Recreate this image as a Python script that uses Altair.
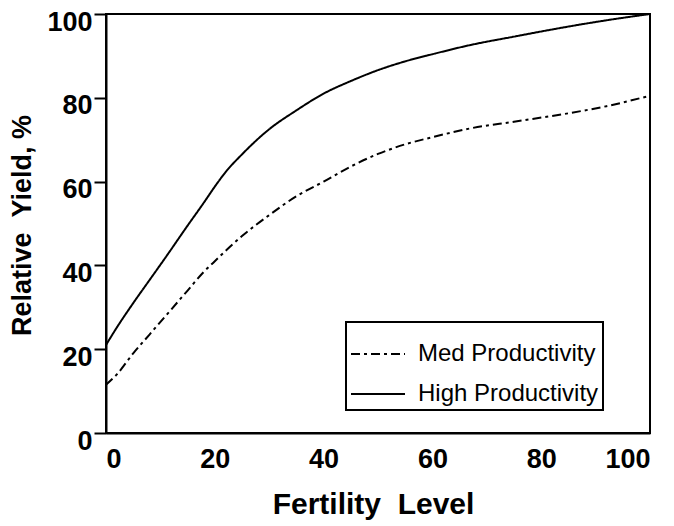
import altair as alt
import pandas as pd

# Fertility level (x) and relative yield (%)
fert = [0, 2, 5, 8, 11, 15, 18, 20, 22, 25, 30, 35, 40, 45, 50, 55, 60, 67, 75, 85, 92, 100]
high = [21, 25.2, 31, 36.5, 42, 49.5, 55, 58.8, 62.3, 66.5, 72.5, 77, 81, 84, 86.6, 88.7,
        90.4, 92.6, 94.6, 97, 98.5, 100]
med = [11.5, 14, 19, 23.5, 28, 34, 38.5, 41, 43.5, 47, 52, 56.5, 60, 63.6, 66.6, 68.9,
       70.6, 72.7, 74.3, 76.3, 78, 80.5]
series_names = ["Med Productivity", "High Productivity"]
x_ticks = [0, 20, 40, 60, 80, 100]
y_ticks = [0, 20, 40, 60, 80, 100]

rows = []
for name, vals in zip(series_names, [med, high]):
    for xv, yv in zip(fert, vals):
        rows.append({"series": name, "x": xv, "y": yv})
df = pd.DataFrame(rows)

FONT = "Liberation Sans"

legend_spec = dict(title=None, orient="none", legendX=240, legendY=308,
                   symbolType="stroke", symbolSize=2916,
                   symbolStrokeWidth=2, symbolStrokeColor="black",
                   labelFont=FONT, labelFontSize=24, labelColor="black",
                   labelOffset=12, padding=4, rowPadding=-22,
                   strokeColor="black", fillColor="white", labelLimit=400)

chart = alt.Chart(df).mark_line(strokeWidth=2, interpolate="monotone").encode(
    x=alt.X("x:Q",
            scale=alt.Scale(domain=[0, 100], nice=False, zero=False),
            axis=alt.Axis(values=x_ticks, title="Fertility\u00a0\u00a0Level", ticks=False,
                          labelPadding=13, grid=False, titleX=267, titleY=71,
                          titleFontSize=30,
                          titleBaseline="middle", titleAlign="center")),
    y=alt.Y("y:Q",
            scale=alt.Scale(domain=[0, 100], nice=False),
            axis=alt.Axis(values=y_ticks, title="Relative\u00a0\u00a0Yield, %", tickSize=12,
                          tickWidth=2, tickColor="black", labelPadding=2, labelOffset=8,
                          titleFontSize=27,
                          grid=False, titleX=-84, titleY=211, titleBaseline="middle",
                          titleAlign="center", titleAngle=270)),
    color=alt.Color("series:N", scale=alt.Scale(domain=series_names, range=["black", "black"]),
                    legend=alt.Legend(**legend_spec)),
    strokeDash=alt.StrokeDash("series:N",
                              scale=alt.Scale(domain=series_names, range=[[9, 4, 3, 4], [1, 0]]),
                              legend=alt.Legend(**legend_spec)),
).properties(
    width=544, height=419,
    autosize=alt.AutoSizeParams(type="none"),
    padding={"left": 98, "top": 6, "right": 16, "bottom": 92},
).configure_view(
    stroke="black", strokeWidth=2
).configure_axis(
    domainColor="black", domainWidth=2,
    labelFont=FONT, labelFontSize=27, labelFontWeight="bold", labelColor="black",
    titleFont=FONT, titleFontWeight="bold", titleColor="black",
).configure_legend(
    strokeWidth=2
)

chart.save("out.html", embed_options={"renderer": "svg", "actions": False})
